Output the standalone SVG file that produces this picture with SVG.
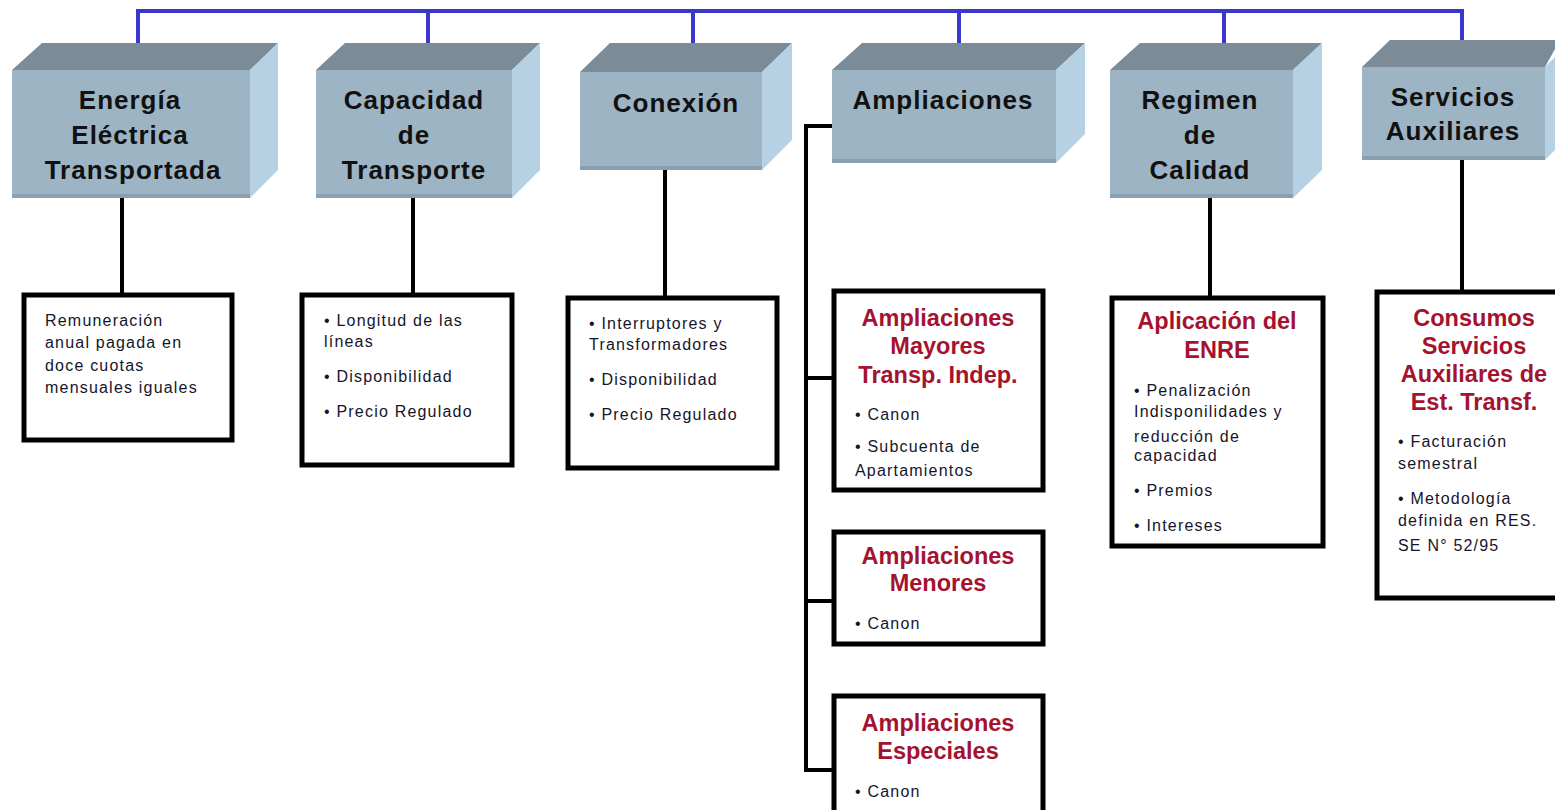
<svg xmlns="http://www.w3.org/2000/svg" width="1555" height="810" viewBox="0 0 1555 810">
<style>
.front{fill:#9db4c4}
.strip{fill:#8aa0b0}
.top{fill:#7b8c98}
.side{fill:#b6d1e3}
.hd{font-family:"Liberation Sans",Arial,sans-serif;font-weight:bold;font-size:26px;letter-spacing:1px;fill:#111;text-anchor:middle}
.rh{font-family:"Liberation Sans",Arial,sans-serif;font-weight:bold;font-size:23.5px;fill:#a5122f;text-anchor:middle}
.bt{font-family:"Liberation Sans",Arial,sans-serif;font-size:16px;letter-spacing:1.2px;fill:#15152a}
.box{fill:#fff;stroke:#000;stroke-width:5}
.blue{fill:none;stroke:#3a38cc;stroke-width:4}
.blk{fill:none;stroke:#000;stroke-width:4}
</style>
<g id="connectors">
<path class="blue" d="M138 53V11H1462V53M428 11V53M693 11V53M959 11V53M1224 11V53"/>
<path class="blk" d="M122 198V293M413 198V293M665 170V297M1210 198V297M1462 160V293"/>
<path class="blk" d="M832 126H806V770H832M806 378H832M806 601H832"/>
</g>
<g id="n-energia">
<polygon class="top" points="12,70 42,43 278,43 250,70"/>
<polygon class="side" points="250,70 278,43 278,170 250,198"/>
<rect class="front" x="12" y="70" width="238" height="128"/>
<rect class="strip" x="12" y="194" width="238" height="4"/>
<text class="hd" x="130" y="109">Energía</text>
<text class="hd" x="130" y="144">Eléctrica</text>
<text class="hd" x="133" y="179">Transportada</text>
</g>
<g id="n-capacidad">
<polygon class="top" points="316,70 345,43 540,43 512,70"/>
<polygon class="side" points="512,70 540,43 540,170 512,198"/>
<rect class="front" x="316" y="70" width="196" height="128"/>
<rect class="strip" x="316" y="194" width="196" height="4"/>
<text class="hd" x="414" y="109">Capacidad</text>
<text class="hd" x="414" y="144">de</text>
<text class="hd" x="414" y="179">Transporte</text>
</g>
<g id="n-conexion">
<polygon class="top" points="580,72 610,43 792,43 762,72"/>
<polygon class="side" points="762,72 792,43 792,140 762,170"/>
<rect class="front" x="580" y="72" width="182" height="98"/>
<rect class="strip" x="580" y="166" width="182" height="4"/>
<text class="hd" x="676" y="112">Conexión</text>
</g>
<g id="n-ampliaciones">
<polygon class="top" points="832,70 862,43 1085,43 1056,70"/>
<polygon class="side" points="1056,70 1085,43 1085,134 1056,163"/>
<rect class="front" x="832" y="70" width="224" height="93"/>
<rect class="strip" x="832" y="159" width="224" height="4"/>
<text class="hd" x="943" y="109">Ampliaciones</text>
</g>
<g id="n-regimen">
<polygon class="top" points="1110,70 1140,43 1322,43 1293,70"/>
<polygon class="side" points="1293,70 1322,43 1322,170 1293,198"/>
<rect class="front" x="1110" y="70" width="183" height="128"/>
<rect class="strip" x="1110" y="194" width="183" height="4"/>
<text class="hd" x="1200" y="109">Regimen</text>
<text class="hd" x="1200" y="144">de</text>
<text class="hd" x="1200" y="179">Calidad</text>
</g>
<g id="n-servicios">
<polygon class="top" points="1362,67 1390,40 1560,40 1545,67"/>
<polygon class="side" points="1545,67 1560,52 1560,145 1545,160"/>
<rect class="front" x="1362" y="67" width="183" height="93"/>
<rect class="strip" x="1362" y="156" width="183" height="4"/>
<text class="hd" x="1453" y="106">Servicios</text>
<text class="hd" x="1453" y="140">Auxiliares</text>
</g>
<g id="b-remuneracion">
<rect class="box" x="24" y="295" width="208" height="145"/>
<text class="bt" x="45" y="326">Remuneración</text>
<text class="bt" x="45" y="348">anual pagada en</text>
<text class="bt" x="45" y="371">doce cuotas</text>
<text class="bt" x="45" y="393">mensuales iguales</text>
</g>
<g id="b-capacidad">
<rect class="box" x="302" y="295" width="210" height="170"/>
<text class="bt" x="324" y="326">• Longitud de las</text>
<text class="bt" x="324" y="347">líneas</text>
<text class="bt" x="324" y="382">• Disponibilidad</text>
<text class="bt" x="324" y="417">• Precio Regulado</text>
</g>
<g id="b-conexion">
<rect class="box" x="568" y="298" width="209" height="170"/>
<text class="bt" x="589" y="329">• Interruptores y</text>
<text class="bt" x="589" y="350">Transformadores</text>
<text class="bt" x="589" y="385">• Disponibilidad</text>
<text class="bt" x="589" y="420">• Precio Regulado</text>
</g>
<g id="b-mayores">
<rect class="box" x="834" y="291" width="209" height="199"/>
<text class="rh" x="938" y="326">Ampliaciones</text>
<text class="rh" x="938" y="354">Mayores</text>
<text class="rh" x="938" y="383">Transp. Indep.</text>
<text class="bt" x="855" y="420">• Canon</text>
<text class="bt" x="855" y="452">• Subcuenta  de</text>
<text class="bt" x="855" y="476">Apartamientos</text>
</g>
<g id="b-menores">
<rect class="box" x="834" y="532" width="209" height="112"/>
<text class="rh" x="938" y="564">Ampliaciones</text>
<text class="rh" x="938" y="591">Menores</text>
<text class="bt" x="855" y="629">• Canon</text>
</g>
<g id="b-especiales">
<rect class="box" x="834" y="696" width="209" height="118"/>
<text class="rh" x="938" y="731">Ampliaciones</text>
<text class="rh" x="938" y="759">Especiales</text>
<text class="bt" x="855" y="797">• Canon</text>
</g>
<g id="b-enre">
<rect class="box" x="1112" y="298" width="211" height="248"/>
<text class="rh" x="1217" y="329">Aplicación del</text>
<text class="rh" x="1217" y="358">ENRE</text>
<text class="bt" x="1134" y="396">• Penalización</text>
<text class="bt" x="1134" y="417">Indisponilidades y</text>
<text class="bt" x="1134" y="442">reducción de</text>
<text class="bt" x="1134" y="461">capacidad</text>
<text class="bt" x="1134" y="496">• Premios</text>
<text class="bt" x="1134" y="531">• Intereses</text>
</g>
<g id="b-consumos">
<rect class="box" x="1377" y="292" width="185" height="306"/>
<text class="rh" x="1474" y="326">Consumos</text>
<text class="rh" x="1474" y="354">Servicios</text>
<text class="rh" x="1474" y="382">Auxiliares de</text>
<text class="rh" x="1474" y="410">Est. Transf.</text>
<text class="bt" x="1398" y="447">• Facturación</text>
<text class="bt" x="1398" y="469">semestral</text>
<text class="bt" x="1398" y="504">• Metodología</text>
<text class="bt" x="1398" y="526">definida en RES.</text>
<text class="bt" x="1398" y="551">SE N° 52/95</text>
</g>
</svg>
